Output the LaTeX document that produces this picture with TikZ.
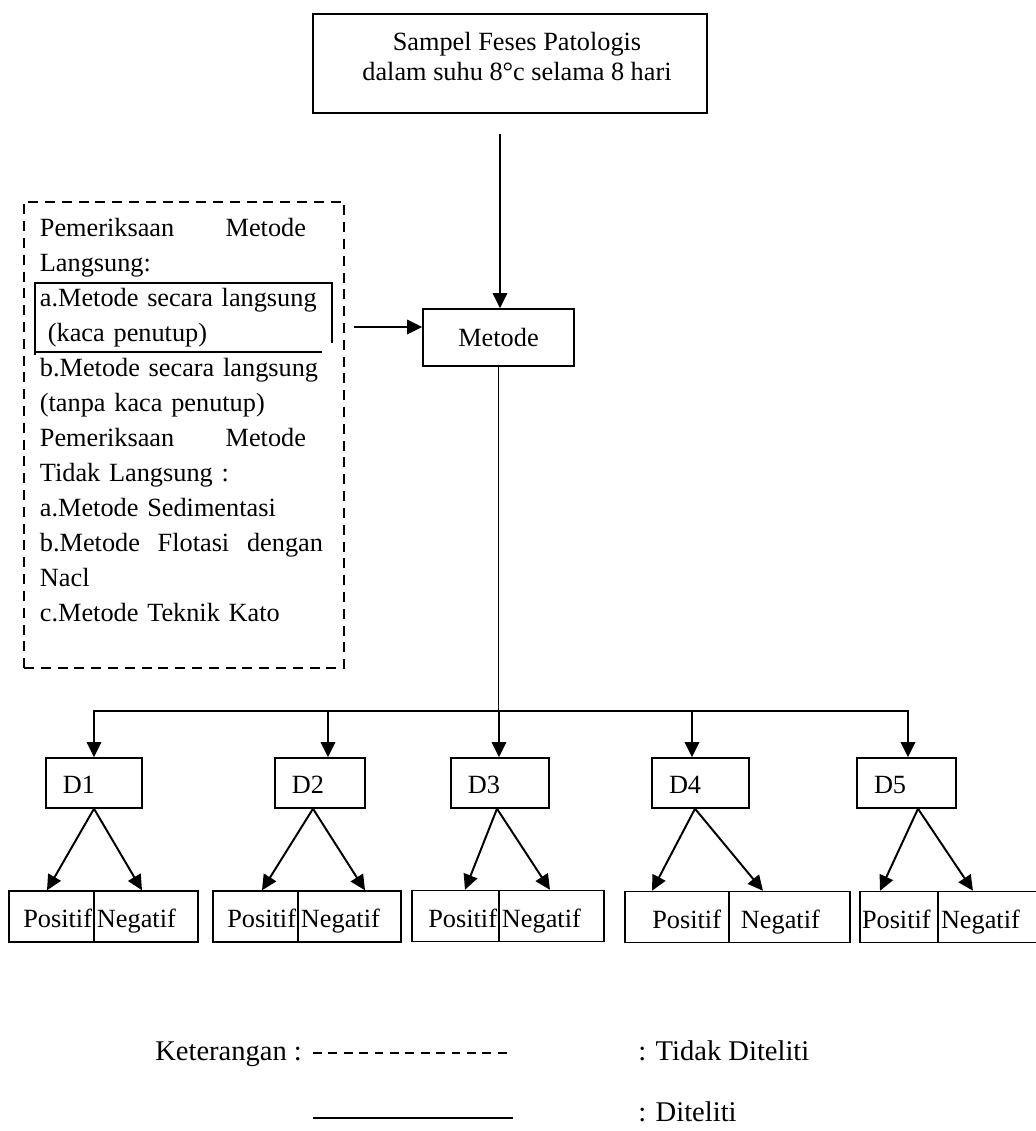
\documentclass[tikz,border=0pt]{standalone}
\usepackage{fontspec}
\setmainfont{Liberation Serif}
\usetikzlibrary{arrows.meta}
\tikzstyle{box} = [rectangle, draw, line width=1pt]
\tikzstyle{dbox} = [rectangle, draw, line width=1.3pt, dash pattern=on 0.25cm off 0.17cm, inner sep=0.4cm, text width=7.2cm, align=left, font=\fontsize{18.7}{24.9}\selectfont]
\tikzstyle{dnode} = [box, minimum height=1.25cm, inner xsep=0.425cm, align=left, text height=0.5cm, text depth=0pt]
\tikzstyle{cell} = [box, minimum height=1.275cm, text height=0.565cm, text depth=0pt]
\tikzstyle{legend} = [inner sep=0pt, anchor=west, text height=0.46cm, text depth=0pt, font=\fontsize{20.3}{24}\selectfont]
\tikzstyle{arrow} = [->, line width=1.4pt]

\begin{document}
\begin{tikzpicture}[x=0.025cm,y=-0.025cm,>={Triangle[length=0.38cm,width=0.36cm]},font=\fontsize{18.7}{21.3}\selectfont]
  \useasboundingbox (0,0) rectangle (1036,1131);

  \node (sample) [box, minimum width=9.85cm, minimum height=2.475cm, align=center] at (510,63.5)
    {\hspace*{0.35cm}Sampel Feses Patologis\\\hspace*{0.35cm}dalam suhu 8\textdegree c selama 8 hari\\[-0.375cm]\mbox{}};
  \node (metode) [box, minimum width=3.775cm, minimum height=1.425cm, text height=0.44cm, text depth=0pt] at (498.5,337.5) {Metode};
  \node (methods) [dbox, anchor=north west] at (23,201) {%
    \makebox[6.65cm][l]{Pemeriksaan\hfill Metode}\\
    Langsung:\\
    a.Metode secara langsung\\
    \hspace*{0.2cm}(kaca penutup)\\
    b.Metode secara langsung\\
    (tanpa kaca penutup)\\
    \makebox[6.65cm][l]{Pemeriksaan\hfill Metode}\\
    Tidak Langsung :\\
    a.Metode Sedimentasi\\
    \makebox[7.075cm][l]{b.Metode\hfill Flotasi\hfill dengan}\\
    Nacl\\
    c.Metode Teknik Kato\\[-0.1cm]\mbox{}};
  % bracket round the first item
  \draw[line width=1pt] (35,355) -- (35,283) -- (332,283) -- (332,343);
  \draw[line width=1pt] (35,352) -- (322,352);

  \node (d1) [dnode, text width=1.55cm] at (94,783) {D1};
  \node (d2) [dnode, text width=1.4cm] at (320,783) {D2};
  \node (d3) [dnode, text width=1.6cm] at (500,783) {D3};
  \node (d4) [dnode, text width=1.575cm] at (700.5,783) {D4};
  \node (d5) [dnode, text width=1.625cm] at (906.5,783) {D5};

  \node (pos1) [cell, text width=2.025cm, inner xsep=0.05cm, align=right] at (51.5,916.5) {Positif};
  \node (neg1) [cell, text width=2.45cm, inner xsep=0.075cm, align=left] at (146,916.5) {Negatif};
  \node (pos2) [cell, text width=2.025cm, inner xsep=0.05cm, align=right] at (255.5,916.5) {Positif};
  \node (neg2) [cell, text width=2.425cm, inner xsep=0.075cm, align=left] at (349.5,916.5) {Negatif};
  \node (pos3) [cell, text width=2.075cm, inner xsep=0.05cm, align=right] at (455.5,916) {Positif};
  \node (neg3) [cell, text width=2.475cm, inner xsep=0.075cm, align=left] at (551.5,916) {Negatif};
  \node (pos4) [cell, text width=2.2cm, inner xsep=0.2cm, align=right] at (677,917) {Positif};
  \node (neg4) [cell, text width=2.425cm, inner xsep=0.3cm, align=left] at (789.5,917) {Negatif};
  \node (pos5) [cell, text width=1.85cm, inner xsep=0.05cm, align=left] at (899,917) {Positif};
  \node (neg5) [cell, text width=2.4cm, inner xsep=0.075cm, align=left] at (989,917) {Negatif};

  % connectors
  \coordinate (topstart) at (500,134);
  \draw[arrow] (topstart) -- (topstart |- metode.north);
  \coordinate (leftstart) at (354,327);
  \draw[arrow] (leftstart) -- (leftstart -| metode.west);
  \coordinate (bus) at (499,711);
  \draw[line width=0.8pt] (metode.south) -- (metode.south |- bus);
  \draw[line width=1.4pt, line cap=rect] (94,711) -- (908,711);
  \foreach \x/\n in {94/1,328/2,499/3,692/4,908/5}
    \draw[arrow] (\x,711) -- (\x,0 |- d\n.north);
  \foreach \n/\a/\l/\r in {1/94/47/142,2/313/262/365,3/497/465/550,4/695/652/763,5/918/880/973} {
    \draw[arrow] (\a,0 |- d\n.south) -- (\l,0 |- pos\n.north);
    \draw[arrow] (\a,0 |- d\n.south) -- (\r,0 |- neg\n.north);
  }

  % legend
  \node (ket) [legend] at (155,1051) {Keterangan :};
  \node (tidak) [legend] at (638,1051) {: Tidak Diteliti};
  \node (teliti) [legend] at (638,1112) {: Diteliti};
  \coordinate (dashA) at (313,1053);
  \coordinate (dashB) at (509,1053);
  \draw[line width=1.3pt, dash pattern=on 0.22cm off 0.165cm] (dashA) -- (dashB);
  \coordinate (lineA) at (313,1118);
  \coordinate (lineB) at (513,1118);
  \draw[line width=1.3pt] (lineA) -- (lineB);
\end{tikzpicture}
\end{document}
